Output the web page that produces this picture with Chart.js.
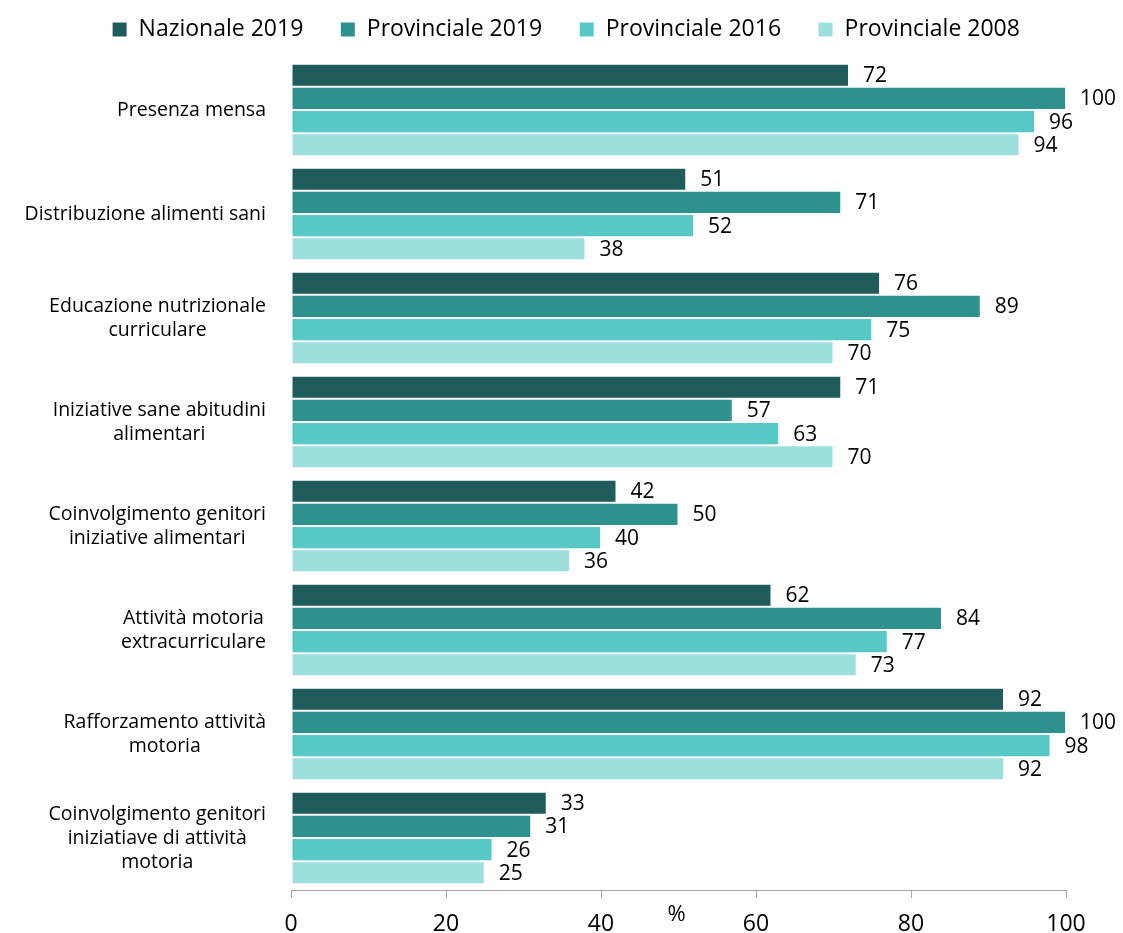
<!DOCTYPE html>
<html>
<head>
<meta charset="utf-8">
<script src="https://cdn.jsdelivr.net/npm/chart.js@4"></script>
<style>
  html, body { margin: 0; padding: 0; background: #fff; }
  #wrap { width: 1123px; height: 933px; }
</style>
</head>
<body>
<div id="wrap"><canvas id="chart"></canvas></div>
<script>
var categories = [
	["Presenza mensa"],
	["Distribuzione alimenti sani"],
	["Educazione nutrizionale", "curriculare"],
	["Iniziative sane abitudini", "alimentari"],
	["Coinvolgimento genitori", "iniziative alimentari"],
	["Attività motoria", "extracurriculare"],
	["Rafforzamento attività", "motoria"],
	["Coinvolgimento genitori", "iniziatiave di attività", "motoria"]
];
var nazionale2019 = [72, 51, 76, 71, 42, 62, 92, 33];
var provinciale2019 = [100, 71, 89, 57, 50, 84, 100, 31];
var provinciale2016 = [96, 52, 75, 63, 40, 77, 98, 26];
var provinciale2008 = [94, 38, 70, 70, 36, 73, 92, 25];
var xTicks = [0, 20, 40, 60, 80, 100];

var fontFamily = "'Open Sans', 'Noto Sans', sans-serif";

function makeSet(label, data, color) {
	return {
		label: label,
		data: data,
		backgroundColor: color,
		borderColor: "#ffffff",
		borderWidth: 1,
		borderSkipped: false,
		barPercentage: 1,
		categoryPercentage: 0.89
	};
}

// legend: wide horizontal gaps but a short box, so squeeze its height
var legendFix = {
	id: "legendFix",
	beforeLayout: function (chart) {
		var legend = chart.legend;
		if (!legend || legend._squeezed) return;
		legend._squeezed = true;
		var fit = legend.fit;
		legend.fit = function () {
			fit.call(this);
			this.height = 58;
		};
		var draw = legend.draw;
		legend.draw = function () {
			var ctx = this.ctx;
			ctx.save();
			ctx.translate(0, -19);
			draw.call(this);
			ctx.restore();
		};
	}
};

// category names (each block right aligned, lines centred within it),
// value labels next to the bars and the "%" under the axis
var textLabels = {
	id: "textLabels",
	afterDatasetsDraw: function (chart) {
		var ctx = chart.ctx;
		var ys = chart.scales.y;
		var xs = chart.scales.x;
		ctx.save();
		ctx.fillStyle = "#000";
		ctx.textBaseline = "middle";

		ctx.font = "19.5px " + fontFamily;
		ctx.textAlign = "center";
		var lineH = 24;
		var right = xs.left - 25;
		categories.forEach(function (lines, i) {
			var y = ys.getPixelForTick(i);
			var w = Math.max.apply(null, lines.map(function (s) { return ctx.measureText(s).width; }));
			var cx = right - w / 2;
			var y0 = y - (lines.length - 1) * lineH / 2;
			lines.forEach(function (s, k) {
				ctx.fillText(s, cx, y0 + k * lineH);
			});
		});

		ctx.font = "21px " + fontFamily;
		ctx.textAlign = "left";
		chart.data.datasets.forEach(function (ds, i) {
			var meta = chart.getDatasetMeta(i);
			meta.data.forEach(function (bar, j) {
				ctx.fillText(ds.data[j], bar.x + 14, bar.y + 1);
			});
		});

		ctx.font = "22px " + fontFamily;
		ctx.textAlign = "center";
		ctx.fillText("%", xs.getPixelForValue(50) - 2, xs.top + 25);
		ctx.restore();
	}
};

new Chart(document.getElementById("chart").getContext("2d"), {
	type: "bar",
	data: {
		labels: categories.map(function (c) { return c.join(" "); }),
		datasets: [
			makeSet("Nazionale 2019", nazionale2019, "#1f5c5b"),
			makeSet("Provinciale 2019", provinciale2019, "#2e918e"),
			makeSet("Provinciale 2016", provinciale2016, "#56c8c5"),
			makeSet("Provinciale 2008", provinciale2008, "#9bdfdc")
		]
	},
	options: {
		indexAxis: "y",
		responsive: true,
		maintainAspectRatio: false,
		animation: false,
		layout: { padding: { left: 66, right: 57, top: 0, bottom: 0 } },
		plugins: {
			legend: {
				position: "top",
				labels: {
					boxWidth: 15,
					boxHeight: 15,
					padding: 37,
					color: "#000",
					font: { family: fontFamily, size: 23 }
				}
			},
			tooltip: { enabled: false }
		},
		scales: {
			x: {
				min: 0,
				max: 100,
				afterBuildTicks: function (scale) {
					scale.ticks = xTicks.map(function (v) { return { value: v }; });
				},
				grid: { drawOnChartArea: false, drawTicks: true, tickLength: 8, color: "#a6a6a6" },
				border: { color: "#a6a6a6" },
				ticks: { color: "#000", padding: 13, font: { family: fontFamily, size: 23 } },
				afterFit: function (scale) { scale.height = 43; }
			},
			y: {
				grid: { display: false },
				border: { display: false },
				ticks: { display: false },
				afterFit: function (scale) { scale.width = 225; }
			}
		}
	},
	plugins: [legendFix, textLabels]
});
</script>
</body>
</html>
